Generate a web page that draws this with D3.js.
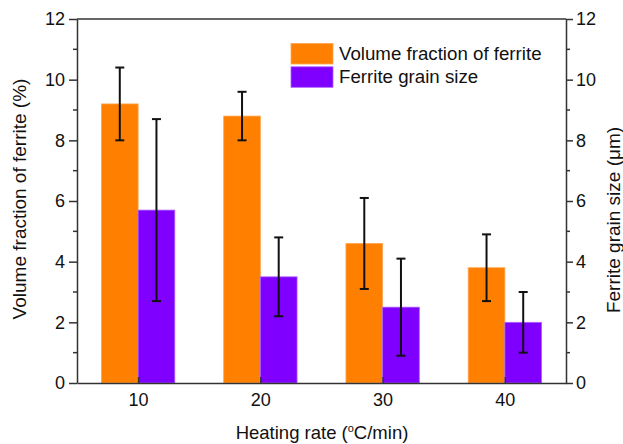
<!DOCTYPE html>
<meta charset="utf-8">
<style>
body { margin: 0; background: #fff; }
svg text { font-family: "Liberation Sans", Arial, sans-serif; fill: #111; }
.axis path, .axis line { stroke: #333; stroke-width: 1.5px; }
.axis text { font-size: 18px; }
</style>
<svg width="623" height="444"></svg>
<script src="https://cdn.jsdelivr.net/npm/d3@7"></script>
<script>

// heating rates and the two measured series
var rates = [10, 20, 30, 40];
var fraction = [9.2, 8.8, 4.6, 3.8];
var fractionLo = [8.0, 8.0, 3.1, 2.7];
var fractionHi = [10.4, 9.6, 6.1, 4.9];
var grain = [5.7, 3.5, 2.5, 2.0];
var grainLo = [2.7, 2.2, 0.9, 1.0];
var grainHi = [8.7, 4.8, 4.1, 3.0];
var yTicks = [0, 2, 4, 6, 8, 10, 12];

var svg = d3.select("svg"),
    pLeft = 77, pRight = 566, pTop = 19, pBottom = 383;

var x = d3.scaleLinear().domain([5, 45]).range([pLeft, pRight]);
var y = d3.scaleLinear().domain([0, 12]).range([pBottom, pTop]);
var barW = 3; // in x units

var orange = "#ff8000", purple = "#8000ff";

var series = [
  { vals: fraction, lo: fractionLo, hi: fractionHi, color: orange, edge: "#ffa550", off: -barW },
  { vals: grain, lo: grainLo, hi: grainHi, color: purple, edge: "#a860ff", off: 0 }
];

series.forEach(function(s) {
  var g = svg.append("g");
  g.selectAll("rect")
    .data(rates)
    .enter().append("rect")
      .attr("x", function(d) { return x(d + s.off); })
      .attr("width", x(barW) - x(0))
      .attr("y", function(d, i) { return y(s.vals[i]); })
      .attr("height", function(d, i) { return pBottom - y(s.vals[i]); })
      .attr("fill", s.color)
      .attr("stroke", s.edge)
      .attr("stroke-width", 0.8);

  // error bars
  var e = g.selectAll(".err")
    .data(rates)
    .enter().append("g")
      .attr("stroke", "#111")
      .attr("stroke-width", 2);
  e.append("line")
    .attr("x1", function(d) { return x(d + s.off + barW / 2); })
    .attr("x2", function(d) { return x(d + s.off + barW / 2); })
    .attr("y1", function(d, i) { return y(s.lo[i]); })
    .attr("y2", function(d, i) { return y(s.hi[i]); });
  [s.lo, s.hi].forEach(function(arr) {
    e.append("line")
      .attr("x1", function(d) { return x(d + s.off + barW / 2) - 4.5; })
      .attr("x2", function(d) { return x(d + s.off + barW / 2) + 4.5; })
      .attr("y1", function(d, i) { return y(arr[i]); })
      .attr("y2", function(d, i) { return y(arr[i]); });
  });
});

// frame
svg.append("line").attr("x1", pLeft).attr("x2", pRight).attr("y1", pTop).attr("y2", pTop)
  .attr("stroke", "#333").attr("stroke-width", 1.5);

// minor ticks
var minor = d3.range(1, 12, 2);
svg.append("g").selectAll("line").data(minor).enter().append("line")
  .attr("x1", pLeft - 4).attr("x2", pLeft)
  .attr("y1", y).attr("y2", y)
  .attr("stroke", "#333").attr("stroke-width", 1.5);
svg.append("g").selectAll("line").data(minor).enter().append("line")
  .attr("x1", pRight).attr("x2", pRight + 4)
  .attr("y1", y).attr("y2", y)
  .attr("stroke", "#333").attr("stroke-width", 1.5);

svg.append("g")
  .attr("class", "axis")
  .attr("transform", "translate(" + pLeft + ",0)")
  .call(d3.axisLeft(y).tickValues(yTicks).tickSize(8).tickPadding(4).tickSizeOuter(0));

svg.append("g")
  .attr("class", "axis")
  .attr("transform", "translate(" + pRight + ",0)")
  .call(d3.axisRight(y).tickValues(yTicks).tickSize(7).tickPadding(3).tickSizeOuter(0));

var xa = svg.append("g")
  .attr("class", "axis")
  .attr("transform", "translate(0," + pBottom + ")")
  .call(d3.axisBottom(x).tickValues(rates).tickSize(-6).tickPadding(10).tickSizeOuter(0));
xa.selectAll("text").attr("dy", "0.71em").attr("y", 10);

// axis titles
svg.append("text")
  .attr("transform", "translate(322,439)")
  .attr("text-anchor", "middle")
  .style("font-size", "18.5px")
  .html("Heating rate (<tspan dy='-7' font-size='11'>o</tspan><tspan dy='7'>C/min)</tspan>");

svg.append("text")
  .attr("transform", "translate(26,199) rotate(-90)")
  .attr("text-anchor", "middle")
  .style("font-size", "19px")
  .text("Volume fraction of ferrite (%)");

svg.append("text")
  .attr("transform", "translate(620,220) rotate(-90)")
  .attr("text-anchor", "middle")
  .style("font-size", "19px")
  .text("Ferrite grain size (\u03bcm)");

// legend
var legend = [
  { name: "Volume fraction of ferrite", color: orange, edge: "#ffa550" },
  { name: "Ferrite grain size", color: purple, edge: "#a860ff" }
];
var lg = svg.append("g").selectAll("g").data(legend).enter().append("g")
  .attr("transform", function(d, i) { return "translate(291," + (43.5 + i * 23.3) + ")"; });
lg.append("rect").attr("width", 42).attr("height", 20.5)
  .attr("fill", function(d) { return d.color; })
  .attr("stroke", function(d) { return d.edge; }).attr("stroke-width", 0.8);
lg.append("text").attr("x", 48).attr("y", 16)
  .style("font-size", "18.7px")
  .text(function(d) { return d.name; });

</script>
